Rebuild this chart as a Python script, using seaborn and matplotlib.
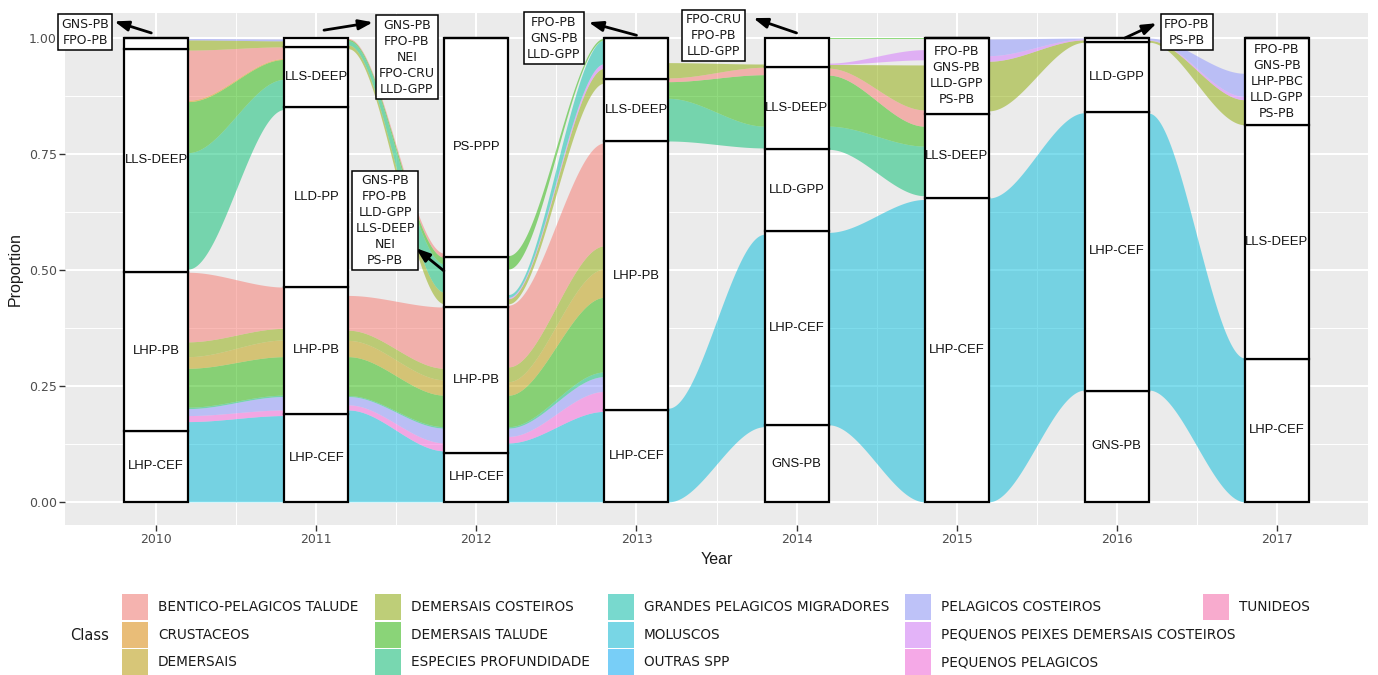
import numpy as np
import pandas as pd
import matplotlib
matplotlib.use("Agg")
import matplotlib.pyplot as plt
from matplotlib.patches import Rectangle
import seaborn as sns

# ---------------- data ----------------
years = [2010, 2011, 2012, 2013, 2014, 2015, 2016, 2017]

class_names = ["BENTICO-PELAGICOS TALUDE", "CRUSTACEOS", "DEMERSAIS",
               "DEMERSAIS COSTEIROS", "DEMERSAIS TALUDE", "ESPECIES PROFUNDIDADE",
               "GRANDES PELAGICOS MIGRADORES", "MOLUSCOS", "OUTRAS SPP",
               "PELAGICOS COSTEIROS", "PEQUENOS PEIXES DEMERSAIS COSTEIROS",
               "PEQUENOS PELAGICOS", "TUNIDEOS"]
class_codes = ["BPT", "CRU", "DEM", "DCO", "DTA", "EPR", "GPM", "MOL", "OUT",
               "PCO", "PPD", "PPE", "TUN"]

# strata (gear) per year, listed bottom to top
stratum_year = [2010, 2010, 2010, 2010,
                2011, 2011, 2011, 2011, 2011,
                2012, 2012, 2012, 2012,
                2013, 2013, 2013, 2013,
                2014, 2014, 2014, 2014, 2014,
                2015, 2015, 2015,
                2016, 2016, 2016, 2016,
                2017, 2017, 2017]
stratum_gear = ["LHP-CEF", "LHP-PB", "LLS-DEEP", "GNS-PB\nFPO-PB",
                "LHP-CEF", "LHP-PB", "LLD-PP", "LLS-DEEP", "GNS-PB\nFPO-PB\nNEI\nFPO-CRU\nLLD-GPP",
                "LHP-CEF", "LHP-PB", "GNS-PB\nFPO-PB\nLLD-GPP\nLLS-DEEP\nNEI\nPS-PB", "PS-PPP",
                "LHP-CEF", "LHP-PB", "LLS-DEEP", "FPO-PB\nGNS-PB\nLLD-GPP",
                "GNS-PB", "LHP-CEF", "LLD-GPP", "LLS-DEEP", "FPO-CRU\nFPO-PB\nLLD-GPP",
                "LHP-CEF", "LLS-DEEP", "FPO-PB\nGNS-PB\nLLD-GPP\nPS-PB",
                "GNS-PB", "LHP-CEF", "LLD-GPP", "FPO-PB\nPS-PB",
                "LHP-CEF", "LLS-DEEP", "FPO-PB\nGNS-PB\nLHP-PBC\nLLD-GPP\nPS-PB"]
stratum_prop = [0.153, 0.343, 0.480, 0.024,
                0.189, 0.275, 0.388, 0.129, 0.019,
                0.105, 0.315, 0.108, 0.472,
                0.197, 0.580, 0.135, 0.088,
                0.165, 0.419, 0.176, 0.178, 0.062,
                0.655, 0.182, 0.163,
                0.240, 0.601, 0.150, 0.009,
                0.309, 0.504, 0.187]

# flows of each class between consecutive years (proportions at both ends)
flow_from_year = [2010] * 14 + [2011] * 12 + [2012] * 12 + [2013] * 5 + [2014] * 7 + [2015] * 4 + [2016] * 4
flow_class = ["MOL", "PPE", "PCO", "EPR", "DTA", "DEM", "DCO", "BPT", "EPR", "DTA", "CRU", "BPT", "DCO", "PCO",
              "MOL", "PPE", "PCO", "EPR", "DTA", "DEM", "DCO", "BPT", "DCO", "EPR", "DTA", "BPT",
              "MOL", "PPE", "PCO", "EPR", "DTA", "DEM", "DCO", "BPT", "DCO", "PPD", "GPM", "DTA",
              "MOL", "EPR", "DTA", "BPT", "DCO",
              "MOL", "EPR", "DTA", "BPT", "DCO", "PPD", "DTA",
              "MOL", "DCO", "PPD", "PCO",
              "MOL", "DCO", "PPD", "PCO"]
flow_from_lo = [0.000, 0.173, 0.186, 0.201, 0.204, 0.288, 0.313, 0.345, 0.502, 0.753, 0.863, 0.866, 0.974, 0.996,
                0.000, 0.198, 0.209, 0.227, 0.229, 0.313, 0.348, 0.370, 0.977, 0.985, 0.994, 0.997,
                0.000, 0.127, 0.141, 0.159, 0.162, 0.230, 0.259, 0.291, 0.427, 0.438, 0.441, 0.502,
                0.000, 0.778, 0.870, 0.906, 0.914,
                0.166, 0.760, 0.810, 0.920, 0.935, 0.943, 0.998,
                0.000, 0.843, 0.950, 0.962,
                0.241, 0.991, 0.995, 0.996]
flow_from_hi = [0.173, 0.186, 0.201, 0.204, 0.288, 0.313, 0.345, 0.495, 0.753, 0.863, 0.866, 0.974, 0.996, 0.999,
                0.198, 0.209, 0.227, 0.229, 0.313, 0.348, 0.370, 0.445, 0.985, 0.994, 0.997, 0.999,
                0.127, 0.141, 0.159, 0.162, 0.230, 0.259, 0.291, 0.424, 0.438, 0.441, 0.447, 0.531,
                0.202, 0.870, 0.906, 0.914, 0.947,
                0.581, 0.810, 0.920, 0.935, 0.943, 0.946, 1.000,
                0.655, 0.950, 0.962, 0.998,
                0.838, 0.995, 0.996, 1.000]
flow_to_lo = [0.000, 0.186, 0.198, 0.227, 0.230, 0.313, 0.349, 0.374, 0.846, 0.911, 0.954, 0.956, 0.981, 0.994,
              0.000, 0.110, 0.127, 0.159, 0.162, 0.230, 0.263, 0.288, 0.427, 0.452, 0.513, 0.527,
              0.000, 0.195, 0.238, 0.270, 0.280, 0.441, 0.502, 0.552, 0.903, 0.935, 0.945, 0.996,
              0.162, 0.763, 0.810, 0.921, 0.937,
              0.000, 0.660, 0.767, 0.810, 0.845, 0.953, 0.998,
              0.241, 0.991, 0.996, 0.998,
              0.000, 0.813, 0.867, 0.874]
flow_to_hi = [0.186, 0.198, 0.227, 0.230, 0.313, 0.349, 0.374, 0.463, 0.911, 0.954, 0.956, 0.981, 0.994, 0.998,
              0.110, 0.127, 0.159, 0.162, 0.230, 0.263, 0.288, 0.420, 0.452, 0.513, 0.527, 0.536,
              0.195, 0.238, 0.270, 0.280, 0.441, 0.502, 0.552, 0.774, 0.935, 0.945, 0.996, 1.000,
              0.577, 0.810, 0.921, 0.937, 0.944,
              0.652, 0.767, 0.810, 0.845, 0.942, 0.975, 1.000,
              0.839, 0.996, 0.998, 1.000,
              0.310, 0.867, 0.874, 0.924]

# ---------------- style / layout ----------------
hue_colors = ["#F8766D", "#E18A00", "#BE9C00", "#8CAB00", "#24B700", "#00BE70",
              "#00C1AB", "#00BBDA", "#00ACFC", "#8B93FF", "#D575FE", "#F962DD", "#FF65AC"]
palette = dict(zip(class_codes, hue_colors))

# callout layout: (label dx, label y, tail dx, tail y, head dx, head y), in order of callout strata
callout_layout = [(-0.443, 1.013, -0.031, 1.011, -0.262, 1.036),
                  (0.566, 0.959, 0.048, 1.017, 0.354, 1.034),
                  (-0.571, 0.607, -0.203, 0.498, -0.378, 0.547),
                  (-0.517, 1.000, 0.000, 1.006, -0.299, 1.034),
                  (-0.519, 1.006, 0.000, 1.011, -0.270, 1.043),
                  (0.438, 1.013, 0.051, 1.000, 0.250, 1.032)]

sns.set_theme(style="darkgrid", rc={
    "axes.facecolor": "#EBEBEB", "grid.color": "white",
    "xtick.bottom": True, "ytick.left": True,
    "xtick.major.size": 4, "ytick.major.size": 4,
    "xtick.color": "#333333", "ytick.color": "#333333",
    "xtick.major.width": 1.0, "ytick.major.width": 1.0,
})
plt.rcParams["font.family"] = ["DejaVu Sans"]

W, H = 1378, 675
fig = plt.figure(figsize=(W / 100, H / 100), dpi=100)
ax = fig.add_axes([65 / W, 1 - 525 / H, (1368 - 65) / W, (525 - 13) / H])

BOX_W = 0.4

# flows
t = np.linspace(0, 1, 120)
s = 3 * t ** 2 - 2 * t ** 3
for fy, fc, a0, a1, b0, b1 in zip(flow_from_year, flow_class, flow_from_lo, flow_from_hi,
                                   flow_to_lo, flow_to_hi):
    x = fy + BOX_W / 2 + (1 - BOX_W) * t
    lo = a0 + (b0 - a0) * s
    hi = a1 + (b1 - a1) * s
    ax.fill_between(x, lo, hi, color=palette[fc], alpha=0.5, lw=0, zorder=2)

# strata boxes via seaborn stacked histogram
strata = pd.DataFrame({"Year": stratum_year, "gear": stratum_gear, "prop": stratum_prop})
strata["level"] = strata.groupby("Year").cumcount()
levels = sorted(strata["level"].unique())
sns.histplot(data=strata, x="Year", weights="prop", hue="level", multiple="stack",
             discrete=True, shrink=BOX_W, hue_order=levels[::-1],
             palette={lv: "white" for lv in levels}, alpha=1.0, edgecolor="black",
             linewidth=1.6, legend=False, ax=ax, zorder=3)

# stratum labels
strata["top"] = strata.groupby("Year")["prop"].cumsum()
strata["mid"] = strata["top"] - strata["prop"] / 2
k = 0
for _, r in strata.iterrows():
    if r["prop"] < 0.11 and r["level"] > 0:
        ldx, ly, tdx, ty, hdx, hy = callout_layout[k]
        k += 1
        ax.annotate("", xy=(r["Year"] + hdx, hy), xytext=(r["Year"] + tdx, ty),
                    arrowprops=dict(arrowstyle="-|>,head_length=0.7,head_width=0.25",
                                    lw=2.0, color="black", shrinkA=0, shrinkB=0),
                    zorder=6, annotation_clip=False)
        ax.text(r["Year"] + ldx, ly, r["gear"], ha="center", va="center", fontsize=9,
                linespacing=1.3, color="#1a1a1a", zorder=7, clip_on=False,
                bbox=dict(boxstyle="square,pad=0.25", fc="white", ec="black", lw=1.1))
    elif "\n" in r["gear"]:
        ax.text(r["Year"], r["mid"], r["gear"], ha="center", va="center", fontsize=9,
                linespacing=1.3, color="#1a1a1a", zorder=5)
    else:
        ax.text(r["Year"], r["mid"], r["gear"], ha="center", va="center", fontsize=9.4,
                family="Liberation Sans", color="#111111", zorder=5)

# axes
ax.set_xlim(2009.43, 2017.57)
ax.set_ylim(-0.05, 1.054)
ax.set_xticks(years)
ax.set_xticklabels([str(y) for y in years], fontsize=9, color="#4d4d4d")
ax.set_xticks([y + 0.5 for y in years[:-1]], minor=True)
yt = [0, 0.25, 0.5, 0.75, 1.0]
ax.set_yticks(yt)
ax.set_yticklabels(["0.00", "0.25", "0.50", "0.75", "1.00"], fontsize=9, color="#4d4d4d")
ax.set_yticks([0.125, 0.375, 0.625, 0.875], minor=True)
ax.tick_params(axis="both", which="minor", length=0)
ax.tick_params(axis="both", which="major", pad=2)
ax.grid(which="major", color="white", lw=1.5)
ax.grid(which="minor", color="white", lw=0.7)
ax.set_axisbelow(True)
for sp in ax.spines.values():
    sp.set_visible(False)
ax.set_xlabel("Year", fontsize=11.5, family="Liberation Sans", color="#1a1a1a", labelpad=4)
ax.set_ylabel("Proportion", fontsize=11.5, family="Liberation Sans", color="#1a1a1a", labelpad=4)

# legend (manual, ggplot-like layout)
col_x = [122, 375, 608, 905, 1203]
row_y = [607, 635, 662]
key = 26
fig.text(70 / W, 1 - 635 / H, "Class", fontsize=10.5, va="center", ha="left", color="#1a1a1a")
for i, (code, name) in enumerate(zip(class_codes, class_names)):
    cx = col_x[i // 3]
    cy = row_y[i % 3]
    fig.patches.append(Rectangle((cx / W, 1 - (cy + key / 2) / H), key / W, key / H,
                                 transform=fig.transFigure, fc="#F2F2F2", ec="none"))
    fig.patches.append(Rectangle((cx / W, 1 - (cy + key / 2) / H), key / W, key / H,
                                 transform=fig.transFigure, fc=palette[code], alpha=0.5, ec="none"))
    fig.text((cx + 36) / W, 1 - cy / H, name, fontsize=9.8, va="center", ha="left", color="#1a1a1a")

fig.savefig("out.png", dpi=100)
